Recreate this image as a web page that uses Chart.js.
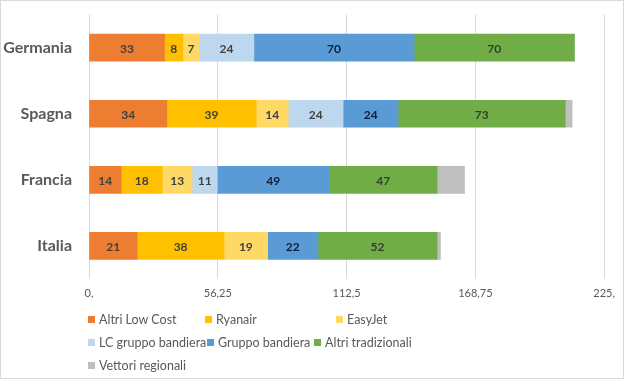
<!DOCTYPE html>
<html>
<head>
<meta charset="utf-8">
<script src="https://cdn.jsdelivr.net/npm/chart.js@4"></script>
<style>
  body { margin: 0; background: #fff; }
  #wrap { position: relative; width: 624px; height: 379px; box-sizing: border-box; border: 1px solid #d9d9d9; overflow: hidden; }
  #grafico { position: absolute; left: 0; top: -13px; }
  .leg { position: absolute; font-family: Lato, sans-serif; font-size: 12.5px; color: #595959; white-space: nowrap; line-height: 16px; }
  .leg span { display: inline-block; width: 7px; height: 7px; margin-right: 4px; vertical-align: 1px; }
</style>
</head>
<body>
<div id="wrap">
  <canvas id="grafico" width="622" height="390"></canvas>
</div>
<script>
// paesi (categorie)
const paesi = ['Germania', 'Spagna', 'Francia', 'Italia'];

// una serie per ogni tipo di vettore
const altriLowCost = [33, 34, 14, 21];
const ryanair = [8, 39, 18, 38];
const easyJet = [7, 14, 13, 19];
const lcGruppoBandiera = [24, 24, 11, 0];
const gruppoBandiera = [70, 24, 49, 22];
const altriTradizionali = [70, 73, 47, 52];
const vettoriRegionali = [0, 3, 12, 1.5];

// etichette asse x
const tickValori = [0, 56.25, 112.5, 168.75, 225];

const serie = [
  { label: 'Altri Low Cost', data: altriLowCost, color: '#ED7D31', txt: '#404040' },
  { label: 'Ryanair', data: ryanair, color: '#FFC000', txt: '#404040' },
  { label: 'EasyJet', data: easyJet, color: '#FFD966', txt: '#404040' },
  { label: 'LC gruppo bandiera', data: lcGruppoBandiera, color: '#BDD7EE', txt: '#404040' },
  { label: 'Gruppo bandiera', data: gruppoBandiera, color: '#5B9BD5', txt: '#0e1e3a' },
  { label: 'Altri tradizionali', data: altriTradizionali, color: '#70AD47', txt: '#33402a' },
  { label: 'Vettori regionali', data: vettoriRegionali, color: '#BFBFBF', txt: null }
];

// etichette dentro le barre
const etichette = {
  id: 'etichette',
  afterDatasetsDraw(chart) {
    const ctx = chart.ctx;
    ctx.save();
    ctx.font = 'bold 12px Lato, sans-serif';
    ctx.textAlign = 'center';
    ctx.textBaseline = 'middle';
    chart.data.datasets.forEach((ds, i) => {
      if (!serie[i].txt) return;
      ctx.fillStyle = serie[i].txt;
      chart.getDatasetMeta(i).data.forEach((bar, j) => {
        if (!ds.data[j]) return;
        const x = (bar.x + bar.base) / 2;
        ctx.fillText(String(ds.data[j]), x, bar.y + 1);
      });
    });
    ctx.restore();
  }
};

new Chart(document.getElementById('grafico'), {
  type: 'bar',
  data: {
    labels: paesi,
    datasets: serie.map(s => ({
      label: s.label,
      data: s.data,
      backgroundColor: s.color,
      barThickness: 27
    }))
  },
  options: {
    indexAxis: 'y',
    responsive: false,
    animation: false,
    layout: { padding: { top: 0, right: 18, bottom: 74, left: 0 } },
    plugins: { legend: { display: false }, tooltip: { enabled: false } },
    scales: {
      x: {
        stacked: true,
        min: 0,
        max: 225,
        afterBuildTicks: (scale) => { scale.ticks = tickValori.map(v => ({ value: v })); },
        afterFit: (scale) => { scale.height = 25; },
        grid: { color: '#d9d9d9', drawTicks: false },
        border: { display: false },
        ticks: {
          padding: 8,
          color: '#595959',
          font: { family: 'Lato, sans-serif', size: 11 },
          callback: (v) => {
            let s = String(v).replace('.', ',');
            if (s.indexOf(',') < 0) s += ',';
            return s;
          }
        }
      },
      y: {
        stacked: true,
        afterFit: (scale) => { scale.width = 88; },
        grid: { display: false, drawTicks: false },
        border: { display: false },
        ticks: {
          padding: 17,
          color: '#595959',
          font: { family: 'Lato, sans-serif', size: 16, weight: 'bold' }
        }
      }
    }
  },
  plugins: [etichette]
});

// legenda in html, tre per riga
const righe = [[0, 1, 2], [3, 4, 5], [6]];
const colonne = [[87, 204, 335], [87, 206, 313], [87]];
const wrap = document.getElementById('wrap');
righe.forEach((riga, r) => {
  riga.forEach((k, c) => {
    const d = document.createElement('div');
    d.className = 'leg';
    d.style.left = colonne[r][c] + 'px';
    d.style.top = (311 + r * 23) + 'px';
    d.innerHTML = '<span style="background:' + serie[k].color + '"></span>' + serie[k].label;
    wrap.append(d);
  });
});
</script>
</body>
</html>
